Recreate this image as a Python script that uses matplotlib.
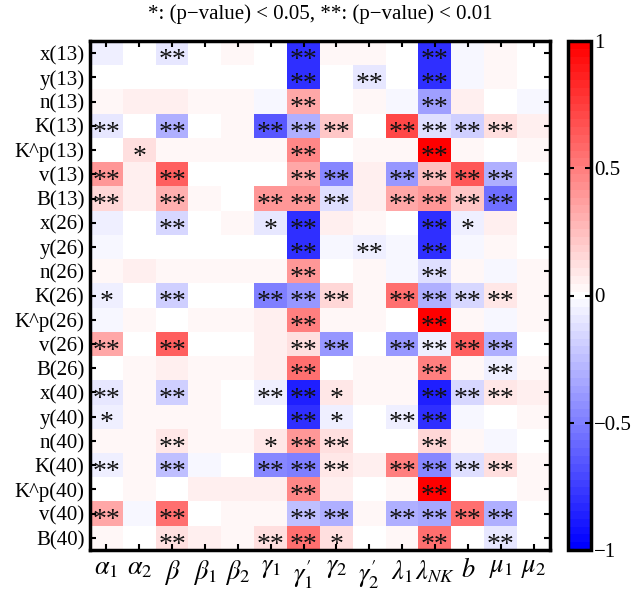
import matplotlib
matplotlib.use("Agg")
import matplotlib.pyplot as plt
import numpy as np
from matplotlib.colors import LinearSegmentedColormap

plt.rcParams['font.family'] = ['Liberation Serif', 'DejaVu Serif']
plt.rcParams['mathtext.fontset'] = 'stix'

row_labels = ["x(13)", "y(13)", "n(13)", "K(13)", "K^p(13)", "v(13)", "B(13)",
              "x(26)", "y(26)", "n(26)", "K(26)", "K^p(26)", "v(26)", "B(26)",
              "x(40)", "y(40)", "n(40)", "K(40)", "K^p(40)", "v(40)", "B(40)"]
col_labels = [r"$\alpha_1$", r"$\alpha_2$", r"$\beta$", r"$\beta_1$", r"$\beta_2$",
              r"$\gamma_1$", r"$\gamma_1^{\prime}$", r"$\gamma_2$", r"$\gamma_2^{\prime}$",
              r"$\lambda_1$", r"$\lambda_{NK}$", r"$b$", r"$\mu_1$", r"$\mu_2$"]

# correlation values, one list per row (columns in col_labels order)
corr = [
    [-0.05, 0.00, -0.08, 0.00, 0.03, 0.00, -0.80, 0.03, 0.03, 0.00, -0.80, -0.04, 0.03, 0.00],
    [0.00, 0.00, 0.00, 0.00, 0.00, 0.00, -0.80, 0.00, -0.10, 0.00, -0.80, -0.04, 0.03, 0.00],
    [0.04, 0.07, 0.07, 0.04, 0.04, -0.04, 0.35, 0.00, 0.04, -0.04, -0.38, 0.07, 0.00, -0.04],
    [-0.10, 0.00, -0.30, 0.00, 0.03, -0.65, -0.30, 0.20, 0.00, 0.72, -0.12, -0.20, 0.12, 0.07],
    [0.00, 0.12, 0.04, 0.04, 0.04, 0.04, 0.45, 0.00, 0.04, 0.04, 1.00, 0.04, 0.00, 0.04],
    [0.40, 0.07, 0.60, 0.00, 0.00, 0.00, 0.35, -0.45, 0.07, -0.40, 0.25, 0.65, -0.30, 0.00],
    [0.15, 0.07, 0.30, 0.04, 0.00, 0.40, 0.40, -0.12, 0.07, 0.35, 0.40, 0.20, -0.55, 0.00],
    [-0.05, 0.00, -0.15, 0.00, 0.03, -0.08, -0.80, 0.07, 0.04, 0.00, -0.80, -0.07, 0.07, 0.00],
    [-0.04, 0.00, 0.00, 0.00, 0.00, 0.00, -0.80, -0.04, -0.07, -0.04, -0.80, -0.04, 0.03, 0.00],
    [0.03, 0.07, 0.04, 0.04, 0.04, 0.04, 0.40, 0.00, 0.04, -0.04, -0.12, 0.04, -0.04, 0.04],
    [-0.07, 0.00, -0.20, 0.00, 0.00, -0.50, -0.40, 0.15, 0.04, 0.55, -0.30, -0.15, 0.10, 0.04],
    [-0.04, 0.04, 0.00, 0.04, 0.04, 0.07, 0.50, 0.04, 0.04, 0.00, 1.00, 0.04, -0.04, 0.04],
    [0.35, 0.00, 0.60, 0.00, 0.00, 0.07, 0.12, -0.40, 0.00, -0.40, -0.07, 0.60, -0.30, 0.00],
    [0.00, 0.04, 0.07, 0.04, 0.04, 0.07, 0.55, 0.00, 0.04, 0.04, 0.50, 0.04, -0.07, 0.04],
    [-0.08, 0.04, -0.20, 0.04, 0.00, -0.07, -0.85, 0.10, 0.04, 0.04, -0.85, -0.15, 0.10, 0.07],
    [-0.07, 0.03, 0.04, 0.03, 0.00, 0.00, -0.80, -0.07, 0.00, -0.07, -0.80, -0.04, 0.00, 0.04],
    [0.04, 0.03, 0.10, 0.04, 0.04, 0.10, 0.40, 0.12, 0.00, 0.00, 0.15, 0.04, -0.04, 0.00],
    [-0.07, 0.03, -0.25, -0.04, 0.00, -0.45, -0.50, 0.10, 0.07, 0.50, -0.45, -0.12, 0.12, 0.04],
    [0.00, 0.03, 0.00, 0.07, 0.07, 0.07, 0.45, 0.07, 0.00, 0.04, 1.00, 0.00, 0.00, 0.04],
    [0.35, -0.04, 0.55, 0.00, 0.04, 0.04, -0.25, -0.30, 0.04, -0.30, -0.35, 0.55, -0.30, 0.00],
    [0.04, 0.00, 0.12, 0.07, 0.04, 0.12, 0.55, 0.12, 0.00, 0.04, 0.55, 0.00, -0.10, 0.00],
]

# significance: 0 none, 1 -> "*", 2 -> "**"
sig = [
    [0, 0, 2, 0, 0, 0, 2, 0, 0, 0, 2, 0, 0, 0],
    [0, 0, 0, 0, 0, 0, 2, 0, 2, 0, 2, 0, 0, 0],
    [0, 0, 0, 0, 0, 0, 2, 0, 0, 0, 2, 0, 0, 0],
    [2, 0, 2, 0, 0, 2, 2, 2, 0, 2, 2, 2, 2, 0],
    [0, 1, 0, 0, 0, 0, 2, 0, 0, 0, 2, 0, 0, 0],
    [2, 0, 2, 0, 0, 0, 2, 2, 0, 2, 2, 2, 2, 0],
    [2, 0, 2, 0, 0, 2, 2, 2, 0, 2, 2, 2, 2, 0],
    [0, 0, 2, 0, 0, 1, 2, 0, 0, 0, 2, 1, 0, 0],
    [0, 0, 0, 0, 0, 0, 2, 0, 2, 0, 2, 0, 0, 0],
    [0, 0, 0, 0, 0, 0, 2, 0, 0, 0, 2, 0, 0, 0],
    [1, 0, 2, 0, 0, 2, 2, 2, 0, 2, 2, 2, 2, 0],
    [0, 0, 0, 0, 0, 0, 2, 0, 0, 0, 2, 0, 0, 0],
    [2, 0, 2, 0, 0, 0, 2, 2, 0, 2, 2, 2, 2, 0],
    [0, 0, 0, 0, 0, 0, 2, 0, 0, 0, 2, 0, 2, 0],
    [2, 0, 2, 0, 0, 2, 2, 1, 0, 0, 2, 2, 2, 0],
    [1, 0, 0, 0, 0, 0, 2, 1, 0, 2, 2, 0, 0, 0],
    [0, 0, 2, 0, 0, 1, 2, 2, 0, 0, 2, 0, 0, 0],
    [2, 0, 2, 0, 0, 2, 2, 2, 0, 2, 2, 2, 2, 0],
    [0, 0, 0, 0, 0, 0, 2, 0, 0, 0, 2, 0, 0, 0],
    [2, 0, 2, 0, 0, 0, 2, 2, 0, 2, 2, 2, 2, 0],
    [0, 0, 2, 0, 0, 2, 2, 1, 0, 0, 2, 0, 2, 0],
]

# odd number of levels so that 0 lands on pure white
cmap = LinearSegmentedColormap.from_list("bwr65", [(0, 0, 1), (1, 1, 1), (1, 0, 0)], N=65)

fig = plt.figure(figsize=(6.32, 5.99), dpi=100)
ax = fig.add_axes([90 / 632, 1 - 550 / 599, 460 / 632, 509 / 599])
cax = fig.add_axes([568 / 632, 1 - 550 / 599, 23 / 632, 509 / 599])

data = np.array(corr)
im = ax.imshow(data, cmap=cmap, vmin=-1, vmax=1, aspect='auto', interpolation='nearest')

# stars
for i, row in enumerate(sig):
    for j, s in enumerate(row):
        if s:
            ax.text(j, i + 0.3, "*" * s, ha='center', va='center', fontsize=20,
                    color='#111111')

ax.set_xticks(range(len(col_labels)))
ax.set_xticklabels(col_labels, fontsize=19)
ax.set_yticks(range(len(row_labels)))
ax.set_yticklabels(row_labels, fontsize=15)
ax.tick_params(direction='in', length=4, width=1.5, top=True, right=True, pad=4)
ax.tick_params(axis='x', pad=6)
for sp in ax.spines.values():
    sp.set_linewidth(2.5)

cb = fig.colorbar(im, cax=cax, ticks=[-1, -0.5, 0, 0.5, 1])
cb.ax.set_yticklabels(["\u22121", "\u22120.5", "0", "0.5", "1"], fontsize=15)
cb.ax.tick_params(direction='in', length=4, width=1.5, left=True, right=True, pad=2)
cb.outline.set_linewidth(2.5)

fig.text(0.506, 0.976, "*: (p\u2212value) < 0.05, **: (p\u2212value) < 0.01",
         ha='center', va='center', fontsize=15)

fig.savefig("out.png", dpi=100)
